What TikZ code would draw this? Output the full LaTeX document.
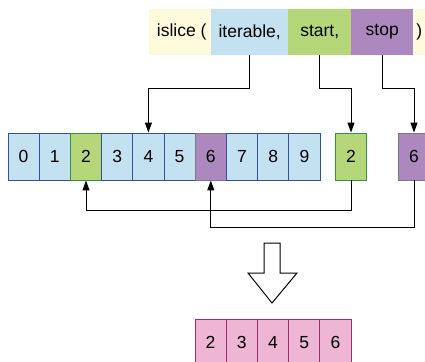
\documentclass[tikz,border=0pt]{standalone}
\usepackage{fontspec}
\setmainfont{Liberation Sans}
\usetikzlibrary{arrows.meta}
\definecolor{ylw}{HTML}{FFFADC}
\definecolor{lblue}{HTML}{C4E1F2}
\definecolor{dblue}{HTML}{34509A}
\definecolor{lgreen}{HTML}{B5D77A}
\definecolor{dgreen}{HTML}{2F9444}
\definecolor{lpurple}{HTML}{AD88BE}
\definecolor{gborder}{HTML}{7A7A7A}
\definecolor{lpink}{HTML}{EEB5D5}
\definecolor{dpink}{HTML}{9A2D6E}
\begin{document}
\begin{tikzpicture}[x=1pt,y=-1pt,
  txt/.style={font=\fontsize{17.5}{20}\selectfont},
  seg/.style={txt,inner sep=0pt,minimum height=46pt,anchor=west},
  cell/.style={txt,draw,line width=0.9pt,inner sep=0pt,minimum width=31.2pt,minimum height=47pt},
  bcell/.style={cell,fill=lblue,draw=dblue},
  gcell/.style={cell,fill=lgreen,draw=dgreen},
  pcell/.style={cell,fill=lpurple,draw=gborder},
  rcell/.style={cell,fill=lpink,draw=dpink},
  conn/.style={line width=1pt,-{Triangle[width=7pt,length=10pt]}},
]
\useasboundingbox (0,0) rectangle (425,361);
\clip (0,0) rectangle (425,361);
% top call
\node[seg,fill=ylw,minimum width=62pt] (fn) at (149,32) {\hspace*{3pt}islice (\hfill};
\node[seg,fill=lblue,minimum width=77pt] (it) at (211,32) {iterable,};
\node[seg,fill=lgreen,minimum width=63pt] (st) at (288,32) {start,};
\node[seg,fill=lpurple,minimum width=62pt] (sp) at (351,32) {stop};
\node[seg,fill=ylw,minimum width=12pt] (cl) at (413,32) {)};
% main array
\foreach \i/\s in {0/bcell,1/bcell,2/gcell,3/bcell,4/bcell,5/bcell,6/pcell,7/bcell,8/bcell,9/bcell}{
  \node[\s] (a\i) at ({8+31.2*(\i+0.5)},156.5) {\i};
}
\node[gcell] (g) at (351,156.5) {2};
\node[pcell] (p) at (414,156.5) {6};
% top connectors
\coordinate (itd) at (it.south |- 0,88);
\draw[conn] (it.south) -- (itd) -- (itd -| a4.north) -- (a4.north);
\coordinate (std) at (st.south |- 0,88);
\draw[conn] (st.south) -- (std) -- (std -| g.north) -- (g.north);
\coordinate (spd) at (sp.south |- 0,88);
\draw[conn] (sp.south) -- (spd) -- (spd -| p.north) -- (p.north);
% bottom connectors
\coordinate (gd) at (g.south |- 0,210);
\draw[conn] (g.south) -- (gd) -- (gd -| a2.south) -- (a2.south);
\coordinate (pd) at (p.south |- 0,227);
\draw[conn] (p.south) -- (pd) -- (pd -| a6.south) -- (a6.south);
% hollow arrow
\draw[line width=1pt,fill=white] (264,243) -- (280,243) -- (280,273) -- (297,273) -- (272,303) -- (248,273) -- (264,273) -- cycle;
% result
\foreach \v [count=\k from 0] in {2,3,4,5,6}{
  \node[rcell] (r\k) at ({195+31.2*(\k+0.5)},342.5) {\v};
}
\end{tikzpicture}
\end{document}
